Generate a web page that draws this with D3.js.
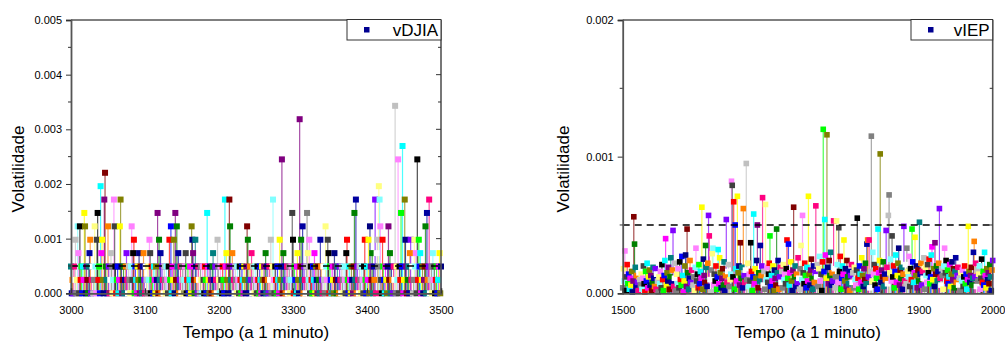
<!DOCTYPE html>
<html><head><meta charset="utf-8">
<script src="https://cdn.jsdelivr.net/npm/d3@7"></script>
<style>body{margin:0;background:#fff}svg{display:block}text{font-family:"Liberation Sans",Arial,sans-serif}</style>
</head><body>
<script>
// ---------- DATA ----------
// vDJIA: minutes 3000..3500, volatility is quantised; values given as multiples of djiaStep
const djiaStart = 3000;
const djiaStep = 0.000245;
const djiaLevels = [
2,0,1,0,2,1,4,0,1,5,3,0,5,1,2,0,2,1,6,5,0,2,1,0,2,
3,4,0,1,2,0,1,5,2,0,4,6,1,2,0,8,3,4,1,0,7,9,2,1,0,
5,2,0,1,3,2,0,1,7,5,2,0,1,2,0,1,5,7,2,0,1,2,0,1,2,
3,1,0,2,1,0,2,5,1,3,4,0,2,1,0,2,1,3,0,2,1,0,2,3,1,
0,2,1,0,2,1,4,3,0,2,1,0,2,1,0,2,1,6,0,4,1,3,0,2,1,
0,2,1,0,2,1,0,2,4,1,5,0,2,1,4,0,6,1,5,2,3,0,1,2,0,
1,2,0,1,2,3,0,1,2,0,1,2,0,5,4,3,1,0,4,2,1,0,2,1,0,
2,1,0,2,1,0,2,1,0,6,2,1,0,2,1,0,2,3,1,0,2,1,0,4,2,
1,0,2,1,0,2,1,0,7,2,3,1,0,2,7,5,1,0,3,2,1,0,2,1,0,
2,1,0,2,1,0,2,1,0,2,1,0,2,5,4,1,0,2,1,3,0,2,1,0,2,
1,0,2,1,0,2,1,0,2,1,0,2,1,3,0,2,1,0,2,1,4,0,2,7,1,
0,2,1,0,2,1,0,4,1,2,10,0,3,1,2,0,1,2,0,1,2,0,1,2,6,
4,0,2,1,0,2,3,1,0,13,2,4,1,5,0,2,1,0,2,6,3,1,4,0,2,
1,0,2,1,3,0,2,1,0,2,1,0,4,2,1,0,2,1,0,5,2,1,4,3,0,
2,1,0,2,1,0,3,2,1,0,2,1,0,2,1,0,2,1,0,2,1,0,3,4,1,
0,2,1,0,2,1,0,2,6,1,7,0,2,1,0,2,1,0,2,1,0,2,4,1,0,
2,1,4,0,5,2,1,3,0,2,1,7,0,3,4,2,8,7,5,1,0,4,2,1,0,
2,1,0,2,5,1,3,0,2,1,0,2,1,14,0,2,1,10,0,2,1,6,2,11,0,
1,7,4,2,0,1,2,0,3,4,1,2,0,1,4,2,3,0,10,1,4,2,3,0,1,
2,0,1,2,5,0,6,1,2,7,0,1,2,0,3,1,2,0,1,2,0,1,2,3,0,
2];
// vIEP: minutes 1500..2000, values in units of iepUnit
const iepStart = 1500;
const iepUnit = 1e-5;
const iepValues = [
4,18,9,31,12,2,21,7,14,3,11,6,16,1,9,56,36,19,5,13,8,2,15,10,6,
14,3,11,20,7,1,16,9,22,4,12,17,6,13,2,8,19,11,5,18,3,14,9,1,12,
7,16,4,21,10,2,13,24,40,6,15,9,19,3,12,26,8,17,46,5,11,22,2,14,7,
18,4,23,10,6,27,13,1,9,20,28,5,47,15,3,11,24,8,17,30,6,12,2,19,33,
9,14,4,21,7,16,11,63,3,25,13,8,35,19,5,22,57,42,10,1,17,29,33,6,14,
9,20,3,12,32,7,26,15,4,11,18,6,23,2,13,54,8,16,21,5,10,14,82,79,12,
67,3,50,18,9,71,15,20,6,37,11,19,4,62,13,8,17,95,10,22,5,14,9,37,16,
2,12,58,7,18,11,24,50,4,15,9,35,13,20,70,6,16,3,65,10,19,8,14,22,42,
5,13,9,20,2,17,11,6,47,15,24,3,12,19,8,16,4,21,10,14,7,18,39,11,36,
6,15,23,9,2,17,63,12,20,5,14,8,26,11,3,18,35,10,57,15,7,22,13,4,19,
9,71,14,6,17,25,11,3,20,8,15,64,12,21,5,18,27,9,14,2,23,120,16,54,28,
11,116,19,7,24,13,30,6,15,9,53,18,4,12,53,21,8,48,16,27,3,11,20,14,39,
9,18,5,24,12,7,16,2,13,21,8,15,4,19,10,6,17,55,11,3,20,14,8,26,13,
5,18,10,22,7,36,39,12,39,4,16,115,9,30,14,21,6,18,11,3,47,15,24,102,8,
17,12,23,5,14,10,46,19,7,57,72,15,25,9,42,12,20,4,16,28,8,13,22,33,6,
17,11,19,3,14,49,9,21,7,33,16,12,27,5,18,10,47,23,8,15,41,13,20,4,17,
9,52,14,22,6,16,11,26,3,19,13,8,21,15,25,7,12,28,34,10,18,5,37,14,20,
9,16,22,62,11,6,18,13,3,20,33,15,24,9,17,7,12,21,5,14,23,10,18,4,16,
26,8,13,19,6,11,2,15,9,17,5,12,20,7,14,3,10,49,16,8,13,19,6,11,30,
38,12,22,5,17,9,14,20,3,11,25,8,16,6,30,13,4,18,10,15,7,21,12,2,17,
24];
// Origin default colour increment list
const palette = ["#000000","#FF0000","#00FF00","#0000FF","#00FFFF","#FF00FF","#FFFF00","#808000",
"#000080","#800080","#800000","#008000","#008080","#0000A0","#FF8000","#8000FF",
"#FF0080","#FFFFFF","#C0C0C0","#808080","#FFFF80","#80FFFF","#FF80FF","#404040"];
const djiaYTicks = [0,0.001,0.002,0.003,0.004,0.005];
const iepYTicks = [0,0.001,0.002];
const djiaXTicks = [3000,3100,3200,3300,3400,3500];
const iepXTicks = [1500,1600,1700,1800,1900,2000];
const threshold = 0.0005;

const djia = djiaLevels.map((l,i)=>({t:djiaStart+i, v:l*djiaStep, c:palette[(i+12)%24]}));
const iep = iepValues.map((u,i)=>({t:iepStart+i, v:u*iepUnit, c:palette[(i+19)%24]}));

const svg = d3.select("body").append("svg").attr("width",1005).attr("height",341);

function panel(cfg){
  const x = d3.scaleLinear().domain(cfg.xDomain).range([cfg.left,cfg.right]);
  const y = d3.scaleLinear().domain(cfg.yDomain).range([cfg.bottom,cfg.top]);
  const g = svg.append("g");
  // stems
  g.append("g").selectAll("line").data(cfg.data).join("line")
    .attr("x1",d=>x(d.t)).attr("x2",d=>x(d.t))
    .attr("y1",y(0)).attr("y2",d=>y(d.v))
    .attr("stroke",d=>d.c).attr("stroke-width",1.2).attr("stroke-opacity",0.7);
  // markers
  const s=cfg.ms;
  g.append("g").selectAll("rect").data(cfg.data).join("rect")
    .attr("x",d=>x(d.t)-s/2).attr("y",d=>y(d.v)-s/2)
    .attr("width",s).attr("height",s).attr("fill",d=>d.c);
  // threshold dashed line
  g.append("line").attr("x1",cfg.left).attr("x2",cfg.right)
    .attr("y1",y(threshold)).attr("y2",y(threshold))
    .attr("stroke","#000").attr("stroke-width",1.5).attr("stroke-dasharray","7,5");
  // frame
  const ax="#555";
  g.append("line").attr("x1",cfg.left).attr("x2",cfg.right).attr("y1",cfg.top).attr("y2",cfg.top).attr("stroke","#000").attr("stroke-width",1);
  g.append("line").attr("x1",cfg.right).attr("x2",cfg.right).attr("y1",cfg.top).attr("y2",cfg.bottom).attr("stroke",ax).attr("stroke-width",1.6);
  // left axis
  const yMinor = d3.range(0,cfg.yDomain[1]+1e-12,cfg.yMinorStep);
  const la = d3.axisLeft(y).tickValues(cfg.yTicks).tickFormat(d3.format(".3f")).tickSize(5).tickPadding(4);
  const lg = g.append("g").attr("transform",`translate(${cfg.left},0)`).call(la);
  lg.select(".domain").attr("stroke",ax).attr("stroke-width",1.8);
  lg.selectAll(".tick line").attr("stroke","#333").attr("stroke-width",1);
  lg.selectAll("text").attr("font-size",11).attr("fill","#000");
  lg.append("g").selectAll("line").data(yMinor.filter(v=>!cfg.yTicks.some(t=>Math.abs(t-v)<1e-12))).join("line")
    .attr("x1",-3).attr("x2",0).attr("y1",d=>y(d)).attr("y2",d=>y(d)).attr("stroke","#333");
  // right axis inward ticks
  const rg = g.append("g");
  rg.selectAll("line").data(yMinor).join("line")
    .attr("x1",d=>cfg.right-(cfg.yTicks.some(t=>Math.abs(t-d)<1e-12)?5:3)).attr("x2",cfg.right)
    .attr("y1",d=>y(d)).attr("y2",d=>y(d)).attr("stroke","#333");
  // bottom axis, inward ticks
  const ba = d3.axisBottom(x).tickValues(cfg.xTicks).tickFormat(d3.format("d")).tickSize(-5).tickPadding(13);
  const bg = g.append("g").attr("transform",`translate(0,${cfg.bottom})`).call(ba);
  bg.select(".domain").attr("stroke",ax).attr("stroke-width",1.8);
  bg.selectAll(".tick line").attr("stroke","#333");
  bg.selectAll("text").attr("font-size",11).attr("fill","#000");
  const xMinor = d3.range(cfg.xDomain[0]+50,cfg.xDomain[1],100);
  bg.append("g").selectAll("line").data(xMinor).join("line")
    .attr("x1",d=>x(d)).attr("x2",d=>x(d)).attr("y1",0).attr("y2",-3).attr("stroke","#333");
  // titles
  svg.append("text").attr("x",(cfg.left+cfg.right)/2).attr("y",338).attr("text-anchor","middle")
    .attr("font-size",17).text("Tempo (a 1 minuto)");
  svg.append("text").attr("transform",`translate(${cfg.ytx},169) rotate(-90)`).attr("text-anchor","middle")
    .attr("font-size",17).text("Volatilidade");
  // legend
  const lgd = svg.append("g");
  lgd.append("rect").attr("x",cfg.legX).attr("y",19.5).attr("width",cfg.right-cfg.legX).attr("height",20.5)
    .attr("fill","#fff").attr("stroke","#333").attr("stroke-width",1);
  lgd.append("rect").attr("x",cfg.legX+17).attr("y",27).attr("width",5.5).attr("height",5.5).attr("fill","#000090");
  lgd.append("text").attr("x",cfg.right-3).attr("y",36).attr("text-anchor","end").attr("font-size",17).text(cfg.name);
}

panel({data:djia, xDomain:[3000,3500], yDomain:[0,0.005], left:71, right:441, top:20, bottom:293.3,
  yTicks:djiaYTicks, xTicks:djiaXTicks, yMinorStep:0.0005, ytx:24, legX:347, name:"vDJIA", ms:6});
panel({data:iep, xDomain:[1500,2000], yDomain:[0,0.002], left:622.7, right:992.7, top:20, bottom:293.3,
  yTicks:iepYTicks, xTicks:iepXTicks, yMinorStep:0.0005, ytx:569, legX:911, name:"vIEP", ms:5.6});
</script>
</body></html>
